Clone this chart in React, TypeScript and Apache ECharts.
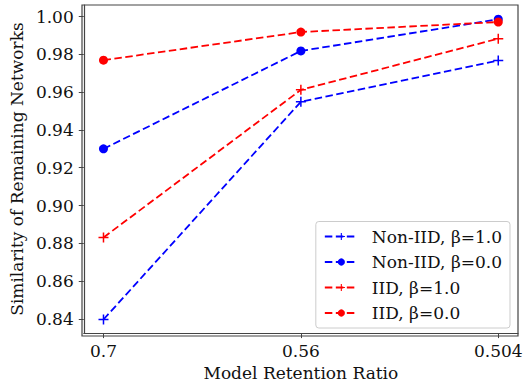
import React, { useEffect, useRef } from "react";
import * as echarts from "echarts";

const categories = ["0.7", "0.56", "0.504"];
const nonIidBeta1 = [0.8397, 0.9549, 0.9767];
const nonIidBeta0 = [0.930, 0.9818, 0.9986];
const iidBeta1 = [0.8831, 0.9612, 0.9883];
const iidBeta0 = [0.9769, 0.9918, 0.9971];
const yTicks = [0.84, 0.86, 0.88, 0.9, 0.92, 0.94, 0.96, 0.98, 1.0];
const seriesNames = ["Non-IID, β=1.0", "Non-IID, β=0.0", "IID, β=1.0", "IID, β=0.0"];

const PLUS = "path://M-0.15,-1H0.15V-0.15H1V0.15H0.15V1H-0.15V0.15H-1V-0.15H-0.15Z";
const FONT = "DejaVu Serif";

function toPoints(vals: number[]) {
  return vals.map((v, i) => [i, v]);
}

export default function App() {
  const ref = useRef<HTMLDivElement>(null);
  useEffect(() => {
    if (!ref.current) return;
    const chart = echarts.init(ref.current, undefined, { renderer: "svg" });
    const mk = (name: string, vals: number[], color: string, plus: boolean) => ({
      name,
      type: "line",
      data: toPoints(vals),
      symbol: plus ? PLUS : "circle",
      symbolSize: plus ? 10 : 9,
      showSymbol: true,
      itemStyle: { color },
      lineStyle: { color, width: 1.8, type: [7.5, 3.5] },
      emphasis: { disabled: true },
    });
    chart.setOption({
      animation: false,
      textStyle: { fontFamily: FONT },
      grid: { left: 82, right: 14, top: 5, bottom: 50 },
      xAxis: {
        type: "value",
        min: -0.1,
        max: 2.1,
        name: "Model Retention Ratio",
        nameLocation: "middle",
        nameGap: 28,
        nameTextStyle: { fontFamily: FONT, fontSize: 17, color: "#111" },
        axisLine: { show: true, onZero: false, lineStyle: { color: "#444", width: 1.2 } },
        axisTick: { show: true, inside: false, length: 5, lineStyle: { color: "#444" }, customValues: [0, 1, 2] },
        axisLabel: {
          fontFamily: FONT,
          fontSize: 17,
          color: "#111",
          margin: 9,
          customValues: [0, 1, 2],
          formatter: (v: number) => categories[Math.round(v)] ?? "",
        },
        splitLine: { show: false },
      },
      yAxis: {
        type: "value",
        min: 0.8325,
        max: 1.0061,
        name: "Similarity of Remaining Networks",
        nameLocation: "middle",
        nameGap: 48,
        nameTextStyle: { fontFamily: FONT, fontSize: 17, color: "#111" },
        axisLine: { show: true, onZero: false, lineStyle: { color: "#444", width: 1.2 } },
        axisTick: { show: true, inside: false, length: 5, lineStyle: { color: "#444" }, customValues: yTicks },
        axisLabel: {
          fontFamily: FONT,
          fontSize: 17,
          color: "#111",
          margin: 10,
          customValues: yTicks,
          formatter: (v: number) => v.toFixed(2),
        },
        splitLine: { show: false },
      },
      graphic: [
        {
          type: "rect",
          shape: { x: 82, y: 5, width: 436, height: 331 },
          style: { fill: "none", stroke: "#444", lineWidth: 1.2 },
          silent: true,
          z: 10,
        },
      ],
      legend: {
        orient: "vertical",
        right: 22,
        bottom: 58,
        data: seriesNames,
        itemWidth: 33,
        itemHeight: 9,
        itemGap: 8.5,
        padding: [6.5, 8, 6.5, 8],
        backgroundColor: "rgba(255,255,255,0.8)",
        borderColor: "#ccc",
        borderWidth: 1,
        borderRadius: 3,
        textStyle: { fontFamily: FONT, fontSize: 17, color: "#111", padding: [0, 0, 0, 9] },
      },
      series: [
        mk(seriesNames[0], nonIidBeta1, "#0000ff", true),
        mk(seriesNames[1], nonIidBeta0, "#0000ff", false),
        mk(seriesNames[2], iidBeta1, "#ff0000", true),
        mk(seriesNames[3], iidBeta0, "#ff0000", false),
      ],
    });
    return () => chart.dispose();
  }, []);
  return (
    <div
      ref={ref}
      style={{ position: "fixed", left: 0, top: 0, width: 532, height: 386, background: "#fff" }}
    />
  );
}
